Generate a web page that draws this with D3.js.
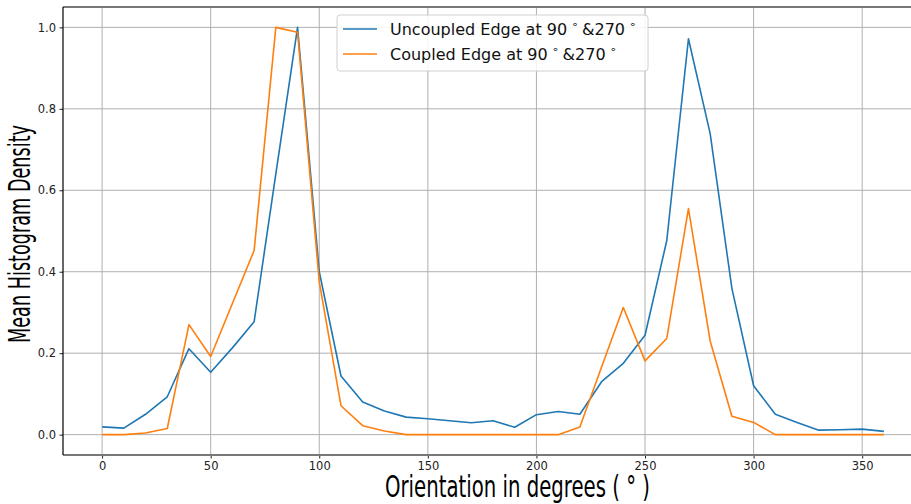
<!DOCTYPE html>
<html>
<head>
<meta charset="utf-8">
<script src="https://cdn.jsdelivr.net/npm/d3@7"></script>
<style>
  html, body { margin: 0; padding: 0; background: #fff; }
  svg { display: block; }
  text { font-family: "DejaVu Sans", sans-serif; }
</style>
</head>
<body>
<svg id="chart" width="911" height="504"></svg>
<script>
// ---- Data ----
const angles = [0,10,20,30,40,50,60,70,80,90,100,110,120,130,140,150,160,170,180,190,200,210,220,230,240,250,260,270,280,290,300,310,320,330,340,350,360];
const uncoupled = [0.019,0.016,0.050,0.093,0.211,0.153,0.213,0.277,0.640,1.000,0.400,0.144,0.080,0.058,0.043,0.039,0.034,0.029,0.034,0.018,0.049,0.057,0.050,0.130,0.175,0.244,0.476,0.972,0.739,0.359,0.120,0.050,0.030,0.011,0.012,0.0135,0.008];
const coupled   = [0.0,0.0,0.004,0.015,0.270,0.192,0.322,0.452,1.000,0.988,0.375,0.071,0.022,0.009,0.0,0.0,0.0,0.0,0.0,0.0,0.0,0.0,0.019,0.166,0.312,0.181,0.236,0.555,0.230,0.045,0.030,0.0,0.0,0.0,0.0,0.0,0.0];
const xTicks = [0,50,100,150,200,250,300,350];
const yTicks = [0.0,0.2,0.4,0.6,0.8,1.0];
const seriesNames = ["Uncoupled Edge at 90", "Coupled Edge at 90"];
const seriesColors = ["#1f77b4", "#ff7f0e"];
const xLabel = "Orientation in degrees ( ° )";
const yLabel = "Mean Histogram Density";

// ---- Layout ----
const svg = d3.select("#chart");
const L = 63, T = 7, B = 455, R = 923;
const x = d3.scaleLinear().domain([-18, 378]).range([L, R]);
const y = d3.scaleLinear().domain([-0.05, 1.05]).range([B, T]);

// grid
const grid = svg.append("g");
grid.selectAll("line.gx").data(xTicks).join("line")
  .attr("x1", d => x(d)).attr("x2", d => x(d)).attr("y1", T).attr("y2", B)
  .attr("stroke", "#b0b0b0").attr("stroke-width", 1);
grid.selectAll("line.gy").data(yTicks).join("line")
  .attr("x1", L).attr("x2", R).attr("y1", d => y(d)).attr("y2", d => y(d))
  .attr("stroke", "#b0b0b0").attr("stroke-width", 1);

// axes
const xAxis = d3.axisBottom(x).tickValues(xTicks).tickSize(3.5).tickPadding(3.5).tickFormat(d3.format("d"));
const yAxis = d3.axisLeft(y).tickValues(yTicks).tickSize(3.5).tickPadding(3.5).tickFormat(d3.format(".1f"));
const gx = svg.append("g").attr("transform", `translate(0,${B})`).call(xAxis);
const gy = svg.append("g").attr("transform", `translate(${L},0)`).call(yAxis);
[gx, gy].forEach(g => {
  g.select(".domain").remove();
  g.selectAll("text").attr("font-family", "DejaVu Sans").attr("font-size", 11.5).attr("fill", "#222");
  g.selectAll("line").attr("stroke", "#222");
});

// lines
const line = d3.line().x((d, i) => x(angles[i])).y(d => y(d));
[uncoupled, coupled].forEach((s, k) => {
  svg.append("path").datum(s)
    .attr("d", line).attr("fill", "none")
    .attr("stroke", seriesColors[k]).attr("stroke-width", 1.6)
    .attr("stroke-linejoin", "round");
});

// spines
svg.append("line").attr("x1", L).attr("x2", 911).attr("y1", T).attr("y2", T).attr("stroke", "#777").attr("stroke-width", 1.8);
svg.append("line").attr("x1", L).attr("x2", 911).attr("y1", B).attr("y2", B).attr("stroke", "#777").attr("stroke-width", 1.8);
svg.append("line").attr("x1", L).attr("x2", L).attr("y1", T).attr("y2", B).attr("stroke", "#000").attr("stroke-width", 1.2);

// legend
const lg = svg.append("g");
lg.append("rect").attr("x", 337).attr("y", 15).attr("width", 311).attr("height", 56)
  .attr("rx", 3).attr("fill", "#fff").attr("fill-opacity", 0.85)
  .attr("stroke", "#d0d0d0").attr("stroke-width", 1);
seriesNames.forEach((n, k) => {
  const yy = 29 + k * 25;
  lg.append("line").attr("x1", 343).attr("x2", 377).attr("y1", yy).attr("y2", yy)
    .attr("stroke", seriesColors[k]).attr("stroke-width", 1.6);
  const t = lg.append("text").attr("x", 390).attr("y", yy + 6)
    .attr("font-size", 16).attr("fill", "#111");
  t.append("tspan").text(n);
  t.append("tspan").attr("dx", 4).attr("font-size", 11).attr("dy", -7).text("∘");
  t.append("tspan").attr("dx", 4).attr("dy", 7).text("&270");
  t.append("tspan").attr("dx", 4).attr("font-size", 11).attr("dy", -7).text("∘");
});

// axis labels
svg.append("text").attr("x", 385).attr("y", 497)
  .attr("font-size", 31).attr("fill", "#000")
  .attr("textLength", 265).attr("lengthAdjust", "spacingAndGlyphs")
  .text(xLabel);
svg.append("text")
  .attr("transform", "translate(30,343) rotate(-90)")
  .attr("font-size", 31).attr("fill", "#000")
  .attr("textLength", 218).attr("lengthAdjust", "spacingAndGlyphs")
  .text(yLabel);
</script>
</body>
</html>
